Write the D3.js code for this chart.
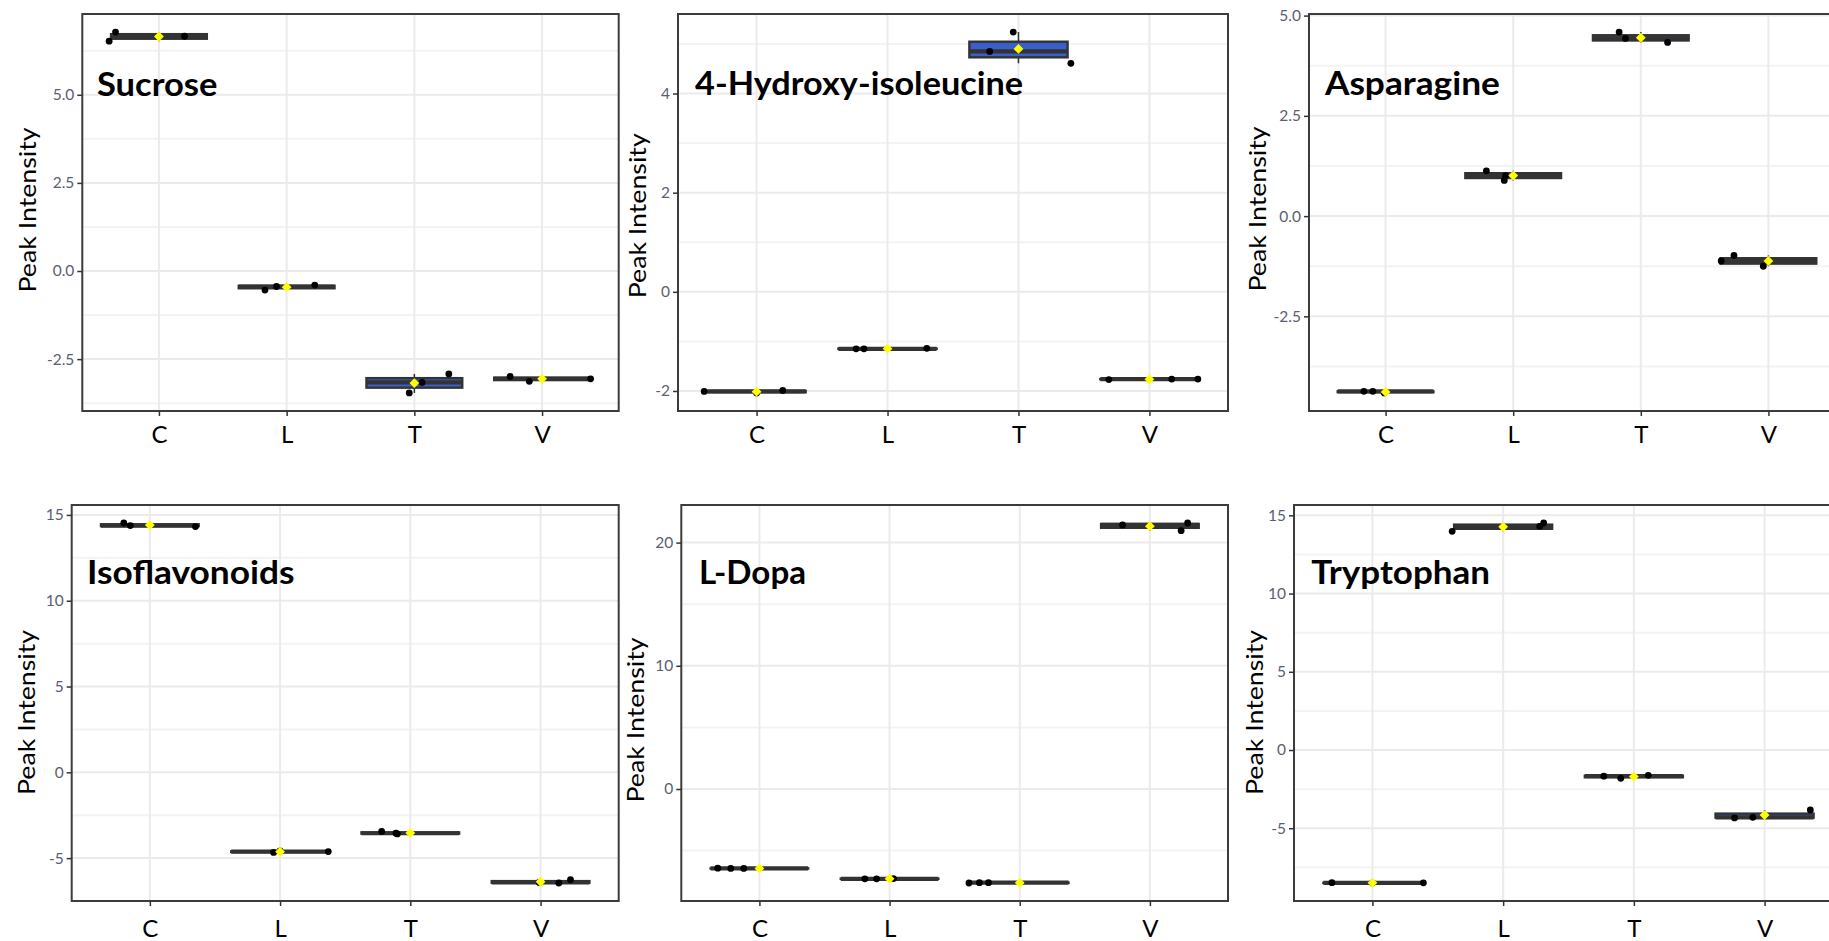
<!DOCTYPE html>
<html>
<head>
<meta charset="utf-8">
<script src="https://cdn.jsdelivr.net/npm/d3@7"></script>
<style>
  html, body { margin: 0; padding: 0; background: #fff; }
  svg { display: block; }
  text { font-family: Lato, "Open Sans", sans-serif; }
</style>
</head>
<body>
<svg id="chart" width="1829" height="941"></svg>
<script>
// ---- data ---------------------------------------------------------------
const groups = ["C", "L", "T", "V"];
const metabolites = ["Sucrose", "4-Hydroxy-isoleucine", "Asparagine", "Isoflavonoids", "L-Dopa", "Tryptophan"];
const yAxisTitle = "Peak Intensity";

// replicate intensities per group (C, L, T, V)
const sucroseValues    = [[6.52, 6.78, 6.66], [-0.54, -0.44, -0.40], [-3.46, -3.16, -2.92], [-2.99, -3.13, -3.06]];
const hydroxyValues    = [[-2.01, -2.04, -1.99], [-1.15, -1.15, -1.14], [5.24, 4.85, 4.61], [-1.77, -1.76, -1.76]];
const asparagineValues = [[-4.37, -4.37, -4.41], [1.13, 0.89, 1.01], [4.59, 4.43, 4.33], [-1.12, -0.98, -1.25]];
const isoflavValues    = [[14.53, 14.38, 14.32], [-4.67, -4.58, -4.62], [-3.45, -3.55, -3.59], [-6.45, -6.26, -6.42]];
const ldopaValues      = [[-6.43, -6.45, -6.45], [-7.29, -7.29, -7.27], [-7.63, -7.60, -7.60], [21.43, 20.97, 21.59]];
const tryptophanValues = [[-8.48, -8.50, -8.49], [13.98, 14.30, 14.51], [-1.67, -1.81, -1.62], [-4.34, -4.30, -3.83]];

// horizontal jitter of each replicate, in units of the category step
const sucroseJitter    = [[-0.39, -0.34, 0.20], [-0.17, -0.08, 0.22], [-0.04, 0.06, 0.27], [-0.25, -0.10, 0.38]];
const hydroxyJitter    = [[-0.40, 0.00, 0.20], [-0.24, -0.18, 0.30], [-0.04, -0.22, 0.40], [-0.31, 0.17, 0.37]];
const asparagineJitter = [[-0.17, -0.10, -0.01], [-0.21, -0.07, -0.06], [-0.17, -0.12, 0.21], [-0.37, -0.27, -0.04]];
const isoflavJitter    = [[-0.20, -0.15, 0.35], [-0.05, 0.00, 0.37], [-0.22, -0.11, -0.10], [0.14, 0.23, -0.01]];
const ldopaJitter      = [[-0.32, -0.22, -0.12], [-0.19, -0.10, 0.03], [-0.39, -0.31, -0.24], [-0.21, 0.24, 0.29]];
const tryptophanJitter = [[-0.31, 0.00, 0.39], [-0.39, 0.28, 0.31], [-0.23, -0.10, 0.11], [-0.23, -0.09, 0.35]];

// y-axis ticks and their labels
const sucroseTicks = [-2.5, 0, 2.5, 5];
const sucroseTickLabels = ["-2.5", "0.0", "2.5", "5.0"];
const hydroxyTicks = [-2, 0, 2, 4];
const hydroxyTickLabels = ["-2", "0", "2", "4"];
const asparagineTicks = [-2.5, 0, 2.5, 5];
const asparagineTickLabels = ["-2.5", "0.0", "2.5", "5.0"];
const isoflavTicks = [-5, 0, 5, 10, 15];
const isoflavTickLabels = ["-5", "0", "5", "10", "15"];
const ldopaTicks = [0, 10, 20];
const ldopaTickLabels = ["0", "10", "20"];
const tryptophanTicks = [-5, 0, 5, 10, 15];
const tryptophanTickLabels = ["-5", "0", "5", "10", "15"];

// ---- layout -------------------------------------------------------------
// panel frames: [left, right, top, bottom]
const panelFrames = [
  [82.3, 618.7, 14, 411],
  [678, 1228, 14, 411],
  [1309, 1845, 14, 411],
  [71.7, 618.7, 505, 901],
  [681.3, 1228, 505, 901],
  [1294, 1843, 505, 901]
];
// in-panel title: [left x, baseline y, width]
const titleAnchors = [
  [96.9, 96, 120.6], [695.1, 95, 328], [1324.9, 95, 175],
  [87, 584.3, 207.6], [699, 584.3, 107], [1311.3, 584.3, 178.7]
];
// rotated y title: [center x, center y]
const yTitleAnchors = [[26.7, 210], [636.9, 215.8], [1256.8, 209], [26.1, 712.5], [635.2, 720], [1254.4, 712.5]];
const xLabelBaselines = [443.3, 443.3, 443.3, 936.7, 936.7, 936.7];

const panels = [
  { values: sucroseValues, jitter: sucroseJitter, ticks: sucroseTicks, labels: sucroseTickLabels },
  { values: hydroxyValues, jitter: hydroxyJitter, ticks: hydroxyTicks, labels: hydroxyTickLabels },
  { values: asparagineValues, jitter: asparagineJitter, ticks: asparagineTicks, labels: asparagineTickLabels },
  { values: isoflavValues, jitter: isoflavJitter, ticks: isoflavTicks, labels: isoflavTickLabels },
  { values: ldopaValues, jitter: ldopaJitter, ticks: ldopaTicks, labels: ldopaTickLabels },
  { values: tryptophanValues, jitter: tryptophanJitter, ticks: tryptophanTicks, labels: tryptophanTickLabels }
];

// ---- drawing ------------------------------------------------------------
const svg = d3.select("#chart");
const boxFill = "#3a5fcd";
const boxLine = "#333333";

panels.forEach((p, i) => {
  const [x0, x1, y0, y1] = panelFrames[i];
  const g = svg.append("g");

  const all = p.values.flat();
  const [mn, mx] = d3.extent(all);
  const pad = (mx - mn) * 0.05;
  const y = d3.scaleLinear().domain([mn - pad, mx + pad]).range([y1, y0]);
  const x = d3.scalePoint().domain(groups).range([x0, x1]).padding(0.6);
  const step = x.step();

  // panel background + grid
  g.append("rect").attr("x", x0).attr("y", y0).attr("width", x1 - x0).attr("height", y1 - y0)
    .attr("fill", "#fff");

  const tStep = p.ticks[1] - p.ticks[0];
  const [dLo, dHi] = y.domain();
  const minor = d3.range(Math.floor((dLo - p.ticks[0]) / tStep) - 1, Math.ceil((dHi - p.ticks[0]) / tStep) + 1)
    .map(k => p.ticks[0] + (k + 0.5) * tStep)
    .filter(v => v > dLo && v < dHi);

  g.selectAll(".minor").data(minor).join("line")
    .attr("x1", x0).attr("x2", x1).attr("y1", d => y(d)).attr("y2", d => y(d))
    .attr("stroke", "#f3f3f3").attr("stroke-width", 2);
  g.selectAll(".major").data(p.ticks).join("line")
    .attr("x1", x0).attr("x2", x1).attr("y1", d => y(d)).attr("y2", d => y(d))
    .attr("stroke", "#ebebeb").attr("stroke-width", 2);
  g.selectAll(".vgrid").data(groups).join("line")
    .attr("x1", d => x(d)).attr("x2", d => x(d)).attr("y1", y0).attr("y2", y1)
    .attr("stroke", "#ebebeb").attr("stroke-width", 2);

  // box statistics per group
  const stats = groups.map((grp, gi) => {
    const v = p.values[gi].slice().sort(d3.ascending);
    const q1 = d3.quantile(v, 0.25), med = d3.quantile(v, 0.5), q3 = d3.quantile(v, 0.75);
    const iqr = q3 - q1;
    const lo = d3.min(v.filter(d => d >= q1 - 1.5 * iqr));
    const hi = d3.max(v.filter(d => d <= q3 + 1.5 * iqr));
    return { grp, q1, med, q3, lo, hi, mean: d3.mean(v) };
  });

  const boxW = step * 0.75;
  // whiskers
  const wg = g.append("g").attr("stroke", boxLine).attr("stroke-width", 1.5);
  stats.forEach(s => {
    wg.append("line").attr("x1", x(s.grp)).attr("x2", x(s.grp)).attr("y1", y(s.hi)).attr("y2", y(s.q3));
    wg.append("line").attr("x1", x(s.grp)).attr("x2", x(s.grp)).attr("y1", y(s.q1)).attr("y2", y(s.lo));
  });
  // boxes
  g.selectAll(".box").data(stats).join("rect")
    .attr("x", d => x(d.grp) - boxW / 2).attr("width", boxW)
    .attr("y", d => y(d.q3)).attr("height", d => Math.max(0.01, y(d.q1) - y(d.q3)))
    .attr("fill", boxFill).attr("stroke", boxLine).attr("stroke-width", 2.4);
  // medians
  g.selectAll(".median").data(stats).join("line")
    .attr("x1", d => x(d.grp) - boxW / 2).attr("x2", d => x(d.grp) + boxW / 2)
    .attr("y1", d => y(d.med)).attr("y2", d => y(d.med))
    .attr("stroke", boxLine).attr("stroke-width", 4.2);

  // jittered replicates
  const pts = [];
  groups.forEach((grp, gi) => p.values[gi].forEach((v, k) => pts.push({ grp, v, j: p.jitter[gi][k] })));
  g.selectAll(".pt").data(pts).join("circle")
    .attr("cx", d => x(d.grp) + d.j * step).attr("cy", d => y(d.v)).attr("r", 3.4)
    .attr("fill", "#000");

  // group means
  const diamond = d3.symbol(d3.symbolSquare, 48);
  g.selectAll(".mean").data(stats).join("path")
    .attr("d", diamond)
    .attr("transform", d => `translate(${x(d.grp)},${y(d.mean)}) rotate(45)`)
    .attr("fill", "#ffff00");

  // panel border
  g.append("rect").attr("x", x0).attr("y", y0).attr("width", x1 - x0).attr("height", y1 - y0)
    .attr("fill", "none").attr("stroke", "#3c3c3c").attr("stroke-width", 2);

  // y axis
  const ya = g.append("g").attr("transform", `translate(${x0},0)`)
    .call(d3.axisLeft(y).tickValues(p.ticks).tickFormat((d, k) => p.labels[k]).tickSize(5).tickPadding(3));
  ya.select(".domain").remove();
  ya.selectAll("line").attr("stroke", "#333").attr("stroke-width", 1.5);
  ya.selectAll("text").attr("fill", "#5a6070").attr("font-size", 15.5)
    .attr("font-family", "Lato, 'Open Sans', sans-serif");

  // x axis
  const xa = g.append("g").attr("transform", `translate(0,${y1})`)
    .call(d3.axisBottom(x).tickSize(5));
  xa.select(".domain").remove();
  xa.selectAll("line").attr("stroke", "#333").attr("stroke-width", 1.5);
  xa.selectAll("text").attr("fill", "#000").attr("font-size", 24)
    .attr("font-family", "Lato, 'Open Sans', sans-serif")
    .attr("y", xLabelBaselines[i] - y1).attr("dy", 0);

  // y title
  const [ytx, yty] = yTitleAnchors[i];
  svg.append("text")
    .attr("transform", `translate(${ytx},${yty}) rotate(-90)`)
    .attr("text-anchor", "middle").attr("dominant-baseline", "central")
    .attr("font-size", 23).attr("fill", "#000")
    .attr("textLength", 165).attr("lengthAdjust", "spacingAndGlyphs")
    .text(yAxisTitle);

  // metabolite name
  const [tx, ty, tw] = titleAnchors[i];
  svg.append("text")
    .attr("x", tx).attr("y", ty)
    .attr("font-size", 33).attr("font-weight", 700).attr("fill", "#000")
    .attr("textLength", tw).attr("lengthAdjust", "spacingAndGlyphs")
    .text(metabolites[i]);
});
</script>
</body>
</html>
